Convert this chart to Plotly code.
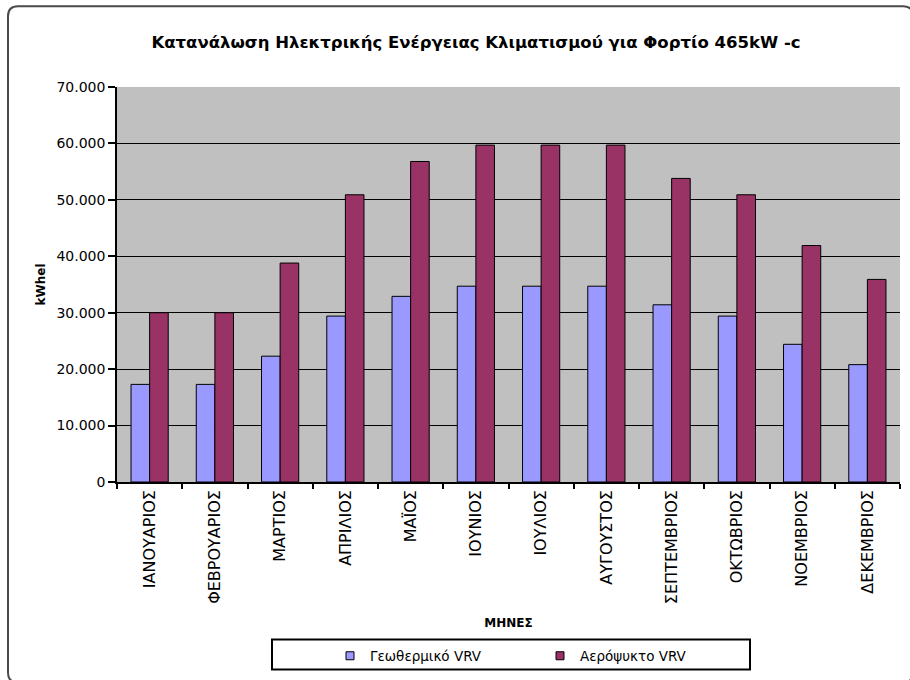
import plotly.graph_objects as go

# Monthly electricity use of the air-conditioning system (kWh el)
months = ["ΙΑΝΟΥΑΡΙΟΣ", "ΦΕΒΡΟΥΑΡΙΟΣ", "ΜΑΡΤΙΟΣ", "ΑΠΡΙΛΙΟΣ", "ΜΑΪΟΣ", "ΙΟΥΝΙΟΣ",
          "ΙΟΥΛΙΟΣ", "ΑΥΓΟΥΣΤΟΣ", "ΣΕΠΤΕΜΒΡΙΟΣ", "ΟΚΤΩΒΡΙΟΣ", "ΝΟΕΜΒΡΙΟΣ", "ΔΕΚΕΜΒΡΙΟΣ"]
geothermal_vrv = [17300, 17300, 22300, 29400, 32900, 34700,
                  34700, 34700, 31400, 29400, 24400, 20800]
aircooled_vrv = [30000, 30000, 38800, 50900, 56800, 59700,
                 59700, 59700, 53800, 50900, 41900, 35900]
series_names = ["Γεωθερμικό VRV", "Αερόψυκτο VRV"]
series_colors = ["#9999FF", "#993366"]

title_text = "Κατανάλωση Ηλεκτρικής Ενέργειας Κλιματισμού για Φορτίο 465kW -c"
x_title = "ΜΗΝΕΣ"
y_title = "kWhel"
y_ticks = [0, 10000, 20000, 30000, 40000, 50000, 60000, 70000]

W, H = 910, 680
L, R, T, B = 117, 10, 87, 197
PW, PH = W - L - R, H - T - B


def px(x):
    return (x - L) / PW


def py(y):
    return (H - B - y) / PH


fig = go.Figure()
for name, vals, col in zip(series_names, [geothermal_vrv, aircooled_vrv], series_colors):
    fig.add_trace(go.Bar(
        x=months, y=vals, name=name, showlegend=False,
        marker=dict(color=col, line=dict(color="#000000", width=1)),
    ))
# small square swatches for the legend
for name, col in zip(series_names, series_colors):
    fig.add_trace(go.Scatter(
        x=[None], y=[None], mode="markers", name=name,
        marker=dict(symbol="square", size=8, color=col, line=dict(color="#000000", width=1)),
    ))

font = "DejaVu Sans"

# chart frame with rounded corners and the legend box
x0, x1, y0, y1, r = px(8), px(913), py(6), py(684), 10
rx, ry = r / PW, r / PH
frame_path = (
    f"M {x0 + rx},{y0} L {x1 - rx},{y0} Q {x1},{y0} {x1},{y0 - ry} "
    f"L {x1},{y1 + ry} Q {x1},{y1} {x1 - rx},{y1} L {x0 + rx},{y1} "
    f"Q {x0},{y1} {x0},{y1 + ry} L {x0},{y0 - ry} Q {x0},{y0} {x0 + rx},{y0} Z"
)
shapes = [
    dict(type="path", xref="paper", yref="paper", path=frame_path,
         line=dict(color="#4a4a4a", width=2), layer="below"),
    dict(type="rect", xref="paper", yref="paper",
         x0=px(272), x1=px(750), y0=py(641), y1=py(671),
         line=dict(color="#000000", width=2)),
]

fig.update_layout(
    width=W, height=H,
    margin=dict(l=L, r=R, t=T, b=B),
    paper_bgcolor="#FFFFFF",
    plot_bgcolor="#C0C0C0",
    separators=",.",
    barmode="group",
    bargap=0.43,
    bargroupgap=0,
    font=dict(family=font, size=12, color="#000000"),
    title=dict(text=title_text, font=dict(family=font, size=16.5, color="#000000", weight="bold"),
               xref="paper", x=px(476), xanchor="center",
               yref="container", y=1 - 42 / H, yanchor="middle"),
    xaxis=dict(
        type="category", tickangle=-90, ticks="outside", tickson="boundaries",
        ticklen=5, tickwidth=1.5, tickcolor="#000000",
        showline=True, linecolor="#000000", linewidth=1.5,
        tickfont=dict(family=font, size=16, color="#000000"),
        title=dict(text=x_title, font=dict(family=font, size=12, color="#000000", weight="bold"),
                   standoff=15),
        showgrid=False,
    ),
    yaxis=dict(
        range=[0, 70000], tickvals=y_ticks, tickformat=",.0f",
        ticks="outside", ticklen=7, tickwidth=1.5, tickcolor="#000000",
        showline=True, linecolor="#000000", linewidth=1.5,
        showgrid=True, gridcolor="#000000", gridwidth=1.2,
        zeroline=False,
        tickfont=dict(family=font, size=14, color="#000000"),
        title=dict(text=y_title, font=dict(family=font, size=12, color="#000000", weight="bold"),
                   standoff=8),
    ),
    legend=dict(
        orientation="h", xref="paper", yref="paper",
        x=px(330), xanchor="left", y=py(656), yanchor="middle",
        bgcolor="rgba(0,0,0,0)", borderwidth=0,
        entrywidthmode="pixels", entrywidth=165,
        font=dict(family=font, size=13.5, color="#000000"),
    ),
    shapes=shapes,
)

fig.write_html("out.html")
